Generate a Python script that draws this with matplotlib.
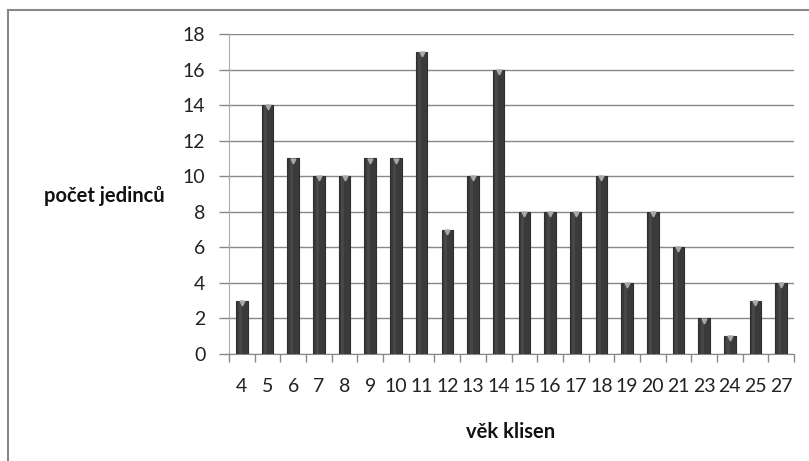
import numpy as np
import matplotlib.pyplot as plt
from matplotlib.lines import Line2D

ages = ['4', '5', '6', '7', '8', '9', '10', '11', '12', '13', '14', '15',
        '16', '17', '18', '19', '20', '21', '23', '24', '25', '27']
counts = [3, 14, 11, 10, 10, 11, 11, 17, 7, 10, 16, 8, 8, 8, 10, 4, 8, 6, 2, 1, 3, 4]

plt.rcParams['font.family'] = ['Lato', 'DejaVu Sans']

fig = plt.figure(figsize=(8.09, 4.61), dpi=100)
ax = fig.add_axes([229 / 809, 1 - 354 / 461, (794 - 229) / 809, (354 - 34) / 461])

x = np.arange(len(ages))
ax.bar(x, counts, width=0.45, color='#3a3a3a', edgecolor='#2e2e2e', linewidth=0.8, zorder=3)
# faint highlight and small cap marker, like the Excel cylinder bars
ax.bar(x - 0.07, counts, width=0.12, color='#474747', linewidth=0, zorder=4)
ax.plot(x, np.array(counts) - 0.12, 'v', color='#a8a8a8', markersize=3.5, zorder=5)

ax.set_xlim(-0.5, len(ages) - 0.5)
ax.set_ylim(0, 18)
ax.set_yticks(range(0, 19, 2))
ax.set_xticks(x)
ax.set_xticklabels(ages)
ax.set_xticks(np.arange(-0.5, len(ages), 1), minor=True)
ax.tick_params(axis='x', which='major', length=0, pad=17, labelsize=14, colors='#222222')
ax.tick_params(axis='x', which='minor', length=6, color='#888888', width=1)
ax.tick_params(axis='y', length=7, color='#888888', width=1, pad=10, labelsize=14,
               colors='#222222')

ax.grid(axis='y', color='#888888', linewidth=1, zorder=0)
for side in ['top', 'right']:
    ax.spines[side].set_visible(False)
ax.spines['left'].set_color('#aaaaaa')
ax.spines['bottom'].set_color('#888888')

fig.text(104 / 809, 1 - 196 / 461, 'počet jedinců', fontsize=14.5, fontweight='bold',
         ha='center', va='center', color='#111111')
fig.text(511 / 809, 1 - 432 / 461, 'věk klisen', fontsize=14.5, fontweight='bold',
         ha='center', va='center', color='#111111')

# outer chart frame (top and left edges visible)
fig.add_artist(Line2D([8 / 809, 8 / 809], [0, 1 - 10 / 461], color='#888888', linewidth=1.5,
                      transform=fig.transFigure))
fig.add_artist(Line2D([8 / 809, 1], [1 - 10 / 461, 1 - 10 / 461], color='#888888', linewidth=1.5,
                      transform=fig.transFigure))

fig.savefig('out.png', dpi=100, facecolor='white')
